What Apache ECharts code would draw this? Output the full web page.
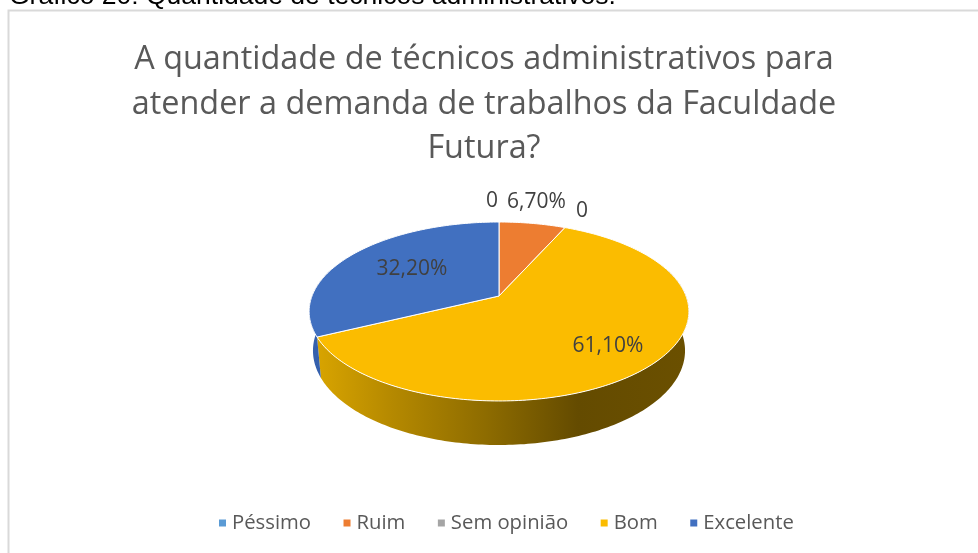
<!DOCTYPE html>
<html><head><meta charset="utf-8">
<style>html,body{margin:0;padding:0;background:#fff;overflow:hidden}#c{width:978px;height:553px}</style>
<script src="https://cdn.jsdelivr.net/npm/echarts@6/dist/echarts.min.js"></script>
</head><body><div id="c"></div>
<script>
const categories = ['Péssimo', 'Ruim', 'Sem opinião', 'Bom', 'Excelente'];
const values = [0, 0.067, 0, 0.611, 0.322];
const chartTitle = 'A quantidade de técnicos administrativos para\natender a demanda de trabalhos da Faculdade\nFutura?';
const caption = 'Gráfico 20: Quantidade de técnicos administrativos.';

const colors = ['#5b9bd5', '#ed7d31', '#a5a5a5', '#fbbc00', '#4170c0'];
// label anchor: radius fraction on the disc, then pixel nudge
const labelPlace = [[1, -7, -21], [1, 4, -21], [1, 17, -17], [0.62, 19, 10], [0.62, 6, 0]];
// projection of the tilted disc
const P = { cx: 499, cy: 296, A: 187, B: 86.8, k: 0.173, D: 39.4, m: 0.02 };
const total = values.reduce((a, b) => a + b, 0);
const cum = values.map((_, i) => values.slice(0, i).reduce((a, b) => a + b, 0) / total * 360);

function project(deg, r, low) {
  const t = deg * Math.PI / 180, u = r * Math.sin(t), v = -r * Math.cos(t);
  const w = 1 - P.k * v + (low ? P.m : 0);
  return [P.cx + P.A * u / w, P.cy + (P.B * v + (low ? P.D : 0)) / w];
}
function arc(a, b, low) {
  const pts = [], n = Math.max(2, Math.ceil(Math.abs(b - a)));
  for (let i = 0; i <= n; i++) pts.push(project(a + (b - a) * i / n, 1, low));
  return pts;
}
function sideFill(i) {
  if (i === 3) return new echarts.graphic.LinearGradient(317, 0, 690, 0, [
    { offset: 0, color: '#d8a400' }, { offset: 0.2, color: '#b58900' },
    { offset: 0.45, color: '#8e6c00' }, { offset: 0.7, color: '#644b00' },
    { offset: 1, color: '#6b5000' }], true);
  return '#3560ad';
}
function renderSlice(params, api) {
  const i = params.seriesIndex, val = api.value(0), children = [];
  const start = cum[i], end = start + val / total * 360, mid = (start + end) / 2;
  if (val > 0) {
    const a = Math.max(start, 70), b = Math.min(end, 290);
    if (b > a) {
      children.push({ type: 'polygon', z2: 1, silent: true,
        shape: { points: arc(a, b, false).concat(arc(a, b, true).reverse()) },
        style: { fill: sideFill(i) } });
    }
    children.push({ type: 'polygon', z2: 2, silent: true,
      shape: { points: [[P.cx, P.cy]].concat(arc(start, end, false)) },
      style: { fill: colors[i], stroke: '#fff', lineWidth: 1, opacity: 1 } });
  }
  const lp = labelPlace[i], q = project(mid, lp[0], false);
  children.push({ type: 'text', z2: 5, silent: true, x: q[0] + lp[1], y: q[1] + lp[2],
    style: { text: val > 0 ? (val * 100).toFixed(2).replace('.', ',') + '%' : '0',
      fill: '#404040', font: '21px "Open Sans"', align: 'center', verticalAlign: 'middle' } });
  return { type: 'group', children };
}

const chart = echarts.init(document.getElementById('c'), null, { renderer: 'canvas' });
chart.setOption({
  animation: false,
  backgroundColor: '#fff',
  color: colors,
  title: { text: chartTitle, left: 479, top: 33, textAlign: 'center',
    textStyle: { color: '#595959', fontFamily: 'Open Sans', fontSize: 32.4, fontWeight: 'normal', lineHeight: 44.5 } },
  legend: { left: 214, top: 508, icon: 'rect', itemWidth: 7, itemHeight: 7, itemGap: 32.5,
    data: categories, selectedMode: false,
    textStyle: { color: '#595959', fontFamily: 'Open Sans', fontSize: 20.3, padding: [0, 0, 0, 1] } },
  graphic: [
    { type: 'rect', silent: true, shape: { x: 8.5, y: 10.5, width: 975, height: 560 },
      style: { fill: 'transparent', stroke: '#d9d9d9', lineWidth: 2 } },
    { type: 'text', silent: true, x: 9, y: 10, style: { text: caption, fill: '#000',
      font: '26.5px "Liberation Sans"', verticalAlign: 'bottom' } }
  ],
  series: categories.map((name, i) => ({
    type: 'custom', name, coordinateSystem: 'none', renderItem: renderSlice,
    data: [[values[i]]], itemStyle: { color: colors[i] }, silent: true
  }))
});
</script></body></html>
